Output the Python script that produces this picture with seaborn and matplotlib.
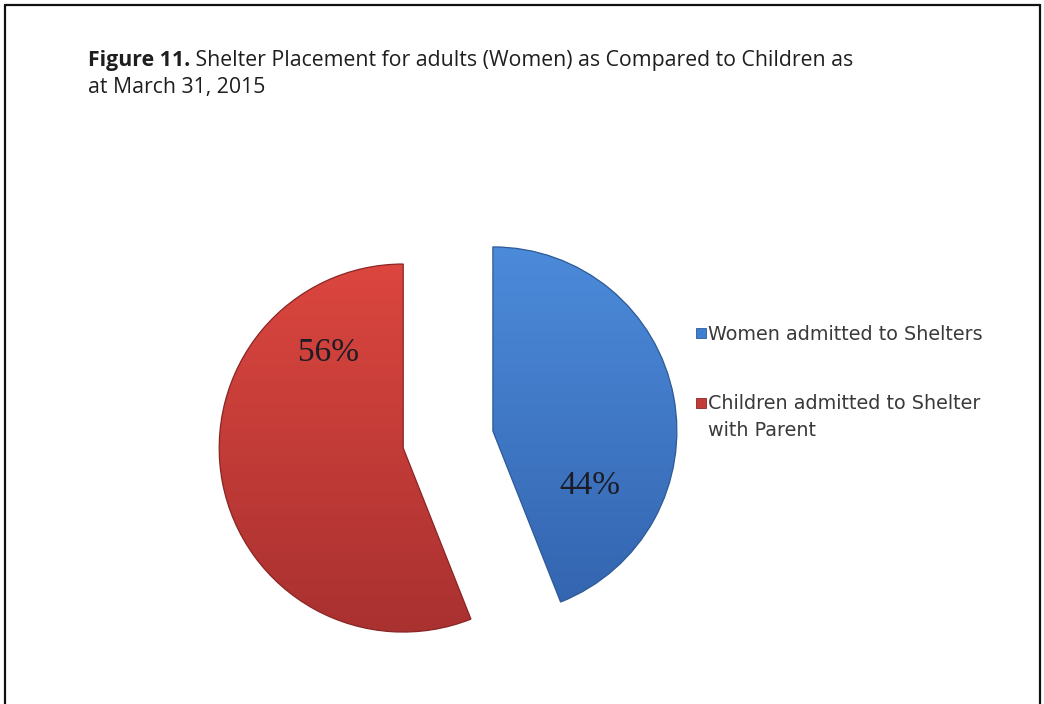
import numpy as np
import matplotlib
matplotlib.use("Agg")
import matplotlib.pyplot as plt
import seaborn as sns
from matplotlib.legend_handler import HandlerPatch
from matplotlib.patches import Rectangle, Wedge
from matplotlib.lines import Line2D
from matplotlib.colors import LinearSegmentedColormap

# ---- data ----
title_bold = "Figure 11."
title_rest = " Shelter Placement for adults (Women) as Compared to Children as"
title_line2 = "at March 31, 2015"
categories = ["Women admitted to Shelters", "Children admitted to Shelter\nwith Parent"]
shares = [44, 56]

# ---- style ----
sns.set_theme(style="white")
plt.rcParams['font.family'] = ['DejaVu Sans']

W, H = 1044, 704
fig = plt.figure(figsize=(W / 100, H / 100), dpi=100)
fig.patch.set_facecolor('white')

ax = fig.add_axes([0.1912, 0.0229, 0.4759, 0.7057])
base_colors = ['#3f7fcf', '#c23b38']
grads = [('#4c8bda', '#3465b0'), ('#dc463f', '#a93130')]
edge_colors = ['#2d5a96', '#8a2525']

wedges, _ = ax.pie(shares, colors=base_colors, startangle=90, counterclock=False,
                   explode=[0.248, 0.248], radius=1.0,
                   wedgeprops=dict(linewidth=0.9))

for w, (c_top, c_bot), ec in zip(wedges, grads, edge_colors):
    ext = w.get_path().get_extents()
    cmap = LinearSegmentedColormap.from_list('g', [c_bot, c_top])
    grad = np.linspace(0, 1, 256).reshape(-1, 1)
    im = ax.imshow(grad, extent=[ext.x0, ext.x1, ext.y0, ext.y1], origin='lower',
                   cmap=cmap, aspect='auto', zorder=1.5, interpolation='bilinear')
    im.set_clip_path(w)
    w.set_facecolor('none')
    w.set_edgecolor(ec)
    w.set_zorder(2)

ax.set_xlim(-1.35, 1.35)
ax.set_ylim(-1.35, 1.35)
ax.set_aspect('equal')
ax.axis('off')

# percentage labels, placed relative to each exploded wedge's centre
label_offsets = [(0.527, -0.299), (-0.408, 0.516)]
for w, s, (dx, dy) in zip(wedges, shares, label_offsets):
    cx, cy = w.center
    ax.text(cx + dx, cy + dy, f"{s}%", ha='center', va='center',
            fontsize=24, family='Liberation Serif', color='#1c1c24', zorder=5)

# legend with square markers (marker aligned to first line of text)
legend_colors = dict(zip(categories, base_colors))
legend_edges = dict(zip(categories, edge_colors))
LSP = 1.55


def square(legend, orig_handle, xdescent, ydescent, width, height, fontsize):
    lab = orig_handle.get_label()
    s = min(width, height)
    shift = 0.0
    if '\n' in lab:
        shift = 0.5 * LSP * fontsize * lab.count('\n')
    return Rectangle((-xdescent, -ydescent + (height - s) / 2 + shift), s, s)


for w, lab in zip(wedges, categories):
    w.set_label(lab)

leg = fig.legend(wedges, categories, loc='upper left',
                 bbox_to_anchor=(696 / W, 1 - 325 / H), frameon=False,
                 prop=dict(family='DejaVu Sans', size=13.8),
                 handlelength=0.5, handleheight=0.5,
                 handletextpad=0.15, labelspacing=2.6, borderpad=0,
                 borderaxespad=0,
                 handler_map={Wedge: HandlerPatch(patch_func=square)})
for t in leg.get_texts():
    t.set_color('#3a3a3a')
    t.set_linespacing(LSP)
for h, lab in zip(leg.legend_handles, categories):
    h.set_facecolor(legend_colors[lab])
    h.set_edgecolor(legend_edges[lab])
    h.set_linewidth(0.6)

# title
tfont = dict(family='Open Sans', size=15.3, color='#1e1e1e')
t1 = fig.text(88 / W, 1 - 66 / H, title_bold, weight='bold', va='baseline', **tfont)
fig.canvas.draw()
bb = t1.get_window_extent(renderer=fig.canvas.get_renderer())
fig.text(bb.x1 / W, 1 - 66 / H, title_rest, va='baseline', **tfont)
fig.text(88 / W, 1 - 93 / H, title_line2, va='baseline', **tfont)

# page border (left, top, right)
bc = '#111111'
fig.add_artist(Line2D([5 / W, 5 / W], [0, 1 - 5 / H], transform=fig.transFigure, color=bc, lw=1.6))
fig.add_artist(Line2D([5 / W, 1040 / W], [1 - 5 / H, 1 - 5 / H], transform=fig.transFigure, color=bc, lw=1.6))
fig.add_artist(Line2D([1040 / W, 1040 / W], [0, 1 - 5 / H], transform=fig.transFigure, color=bc, lw=1.6))

fig.savefig('out.png', dpi=100, facecolor='white')
